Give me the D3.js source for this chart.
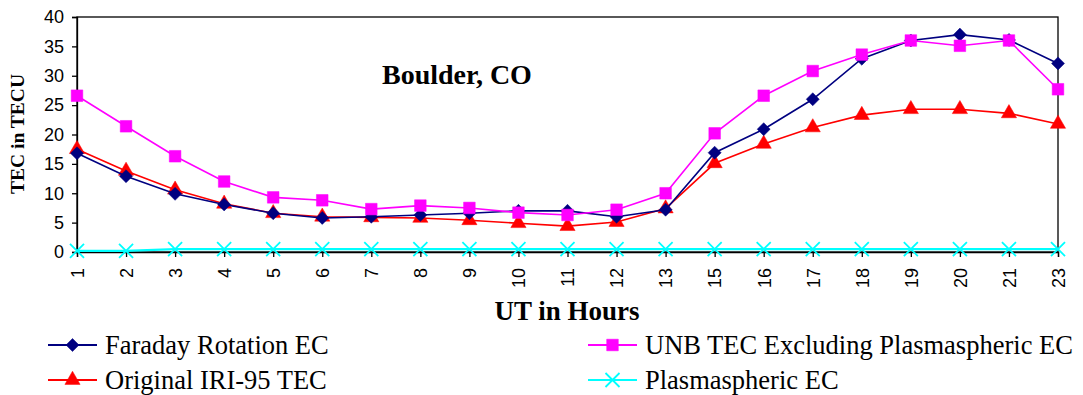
<!DOCTYPE html>
<html><head><meta charset="utf-8">
<script src="https://cdn.jsdelivr.net/npm/d3@7"></script>
<style>body{margin:0;background:#fff}svg{display:block}</style>
</head><body><svg id="c" width="1083" height="395"></svg>
<script>
const hours = ["1","2","3","4","5","6","7","8","9","10","11","12","13","15","16","17","18","19","20","21","23"];
const faraday = [16.8,12.9,9.9,8.1,6.6,5.8,6.0,6.3,6.6,7.0,7.0,6.0,7.2,16.9,20.9,26.0,32.9,36.0,37.0,36.1,32.1];
const unb = [26.6,21.4,16.3,12.0,9.3,8.8,7.3,7.9,7.5,6.7,6.3,7.2,10.0,20.2,26.6,30.8,33.6,36.0,35.1,36.0,27.7];
const iri = [17.5,13.8,10.6,8.2,6.6,6.0,5.9,5.8,5.4,4.9,4.4,5.1,7.4,15.1,18.4,21.2,23.3,24.3,24.3,23.6,21.8];
const plasma = [0.2,0.2,0.5,0.5,0.5,0.5,0.5,0.5,0.5,0.5,0.5,0.5,0.5,0.5,0.5,0.5,0.5,0.5,0.5,0.5,0.5];
const yTicks = [0,5,10,15,20,25,30,35,40];
const seriesNames = ["Faraday Rotation EC","UNB TEC Excluding Plasmaspheric EC","Original IRI-95 TEC","Plasmaspheric EC"];

const svg = d3.select("#c");
const L=77,R=1058,T=17,B=252;
const x = d3.scalePoint().domain(hours).range([L,R]);
const y = d3.scaleLinear().domain([0,40]).range([B,T]);

svg.append("rect").attr("x",L).attr("y",T).attr("width",R-L).attr("height",B-T)
  .attr("fill","none").attr("stroke","#000").attr("stroke-width",1.3);

const ya = svg.append("g").attr("transform",`translate(${L},0)`)
  .call(d3.axisLeft(y).tickValues(yTicks).tickSize(5).tickPadding(8).tickFormat(d3.format("d")));
ya.select(".domain").attr("stroke-width",1.3);
ya.selectAll("line").attr("stroke-width",1.3);
ya.selectAll("text").attr("font-family","Arial, 'Liberation Sans'").attr("font-size",18).attr("fill","#000");

const xa = svg.append("g").attr("transform",`translate(0,${B})`)
  .call(d3.axisBottom(x).tickSize(5).tickPadding(6));
xa.select(".domain").attr("stroke-width",1.3);
xa.selectAll("line").attr("stroke-width",1.3);
xa.selectAll("text").attr("font-family","Arial, 'Liberation Sans'").attr("font-size",18).attr("fill","#000")
  .attr("transform","rotate(-90)").attr("text-anchor","end").attr("dy","0.35em").attr("x",-16).attr("y",0);

const diamondType = {draw(ctx, size){ const r=Math.sqrt(size/2); ctx.moveTo(0,-r); ctx.lineTo(r,0); ctx.lineTo(0,r); ctx.lineTo(-r,0); ctx.closePath(); }};
const sym = {
  diamond: d3.symbol().type(diamondType).size(85),
  square: d3.symbol().type(d3.symbolSquare).size(135),
  triangle: d3.symbol().type(d3.symbolTriangle).size(100),
  cross: d3.symbol().type(d3.symbolX).size(130)
};
const series = [
  {vals:plasma,color:"#00FFFF",sym:"cross",w:2.2},
  {vals:iri,color:"#FF0000",sym:"triangle",w:1.6},
  {vals:faraday,color:"#000080",sym:"diamond",w:1.6},
  {vals:unb,color:"#FF00FF",sym:"square",w:1.6}
];
const line = d3.line().x((d,i)=>x(hours[i])).y(d=>y(d));
series.forEach(s=>{
  svg.append("path").datum(s.vals).attr("d",line).attr("fill","none").attr("stroke",s.color).attr("stroke-width",s.w);
  svg.append("g").selectAll("path").data(s.vals).join("path")
    .attr("d",sym[s.sym]).attr("transform",(d,i)=>`translate(${x(hours[i])},${y(d)})`)
    .attr("fill",s.sym==="cross"?"none":s.color).attr("stroke",s.color).attr("stroke-width",s.sym==="cross"?1.8:0.5);
});

svg.append("text").attr("x",382).attr("y",84).text("Boulder, CO")
  .attr("font-family","'Liberation Serif','Times New Roman',serif").attr("font-weight","bold").attr("font-size",28);
svg.append("text").attr("transform","translate(24,134) rotate(-90)").attr("text-anchor","middle").text("TEC in TECU")
  .attr("font-family","'Liberation Serif','Times New Roman',serif").attr("font-weight","bold").attr("font-size",19.5);
svg.append("text").attr("x",567).attr("y",320).attr("text-anchor","middle").text("UT in Hours")
  .attr("font-family","'Liberation Serif','Times New Roman',serif").attr("font-weight","bold").attr("font-size",27);

const leg = [
  {name:seriesNames[0],color:"#000080",sym:"diamond",lx:48,ly:345},
  {name:seriesNames[1],color:"#FF00FF",sym:"square",lx:588,ly:345},
  {name:seriesNames[2],color:"#FF0000",sym:"triangle",lx:48,ly:380},
  {name:seriesNames[3],color:"#00FFFF",sym:"cross",lx:588,ly:380}
];
leg.forEach(l=>{
  const g = svg.append("g");
  g.append("line").attr("x1",l.lx).attr("x2",l.lx+49).attr("y1",l.ly).attr("y2",l.ly).attr("stroke",l.color).attr("stroke-width",1.8);
  g.append("path").attr("d",sym[l.sym]).attr("transform",`translate(${l.lx+24.5},${l.ly})`)
    .attr("fill",l.sym==="cross"?"none":l.color).attr("stroke",l.color).attr("stroke-width",l.sym==="cross"?1.8:0.5);
  g.append("text").attr("x",l.lx+57).attr("y",l.ly+9).text(l.name)
    .attr("font-family","'Liberation Serif','Times New Roman',serif").attr("font-size",26.5);
});
</script></body></html>
